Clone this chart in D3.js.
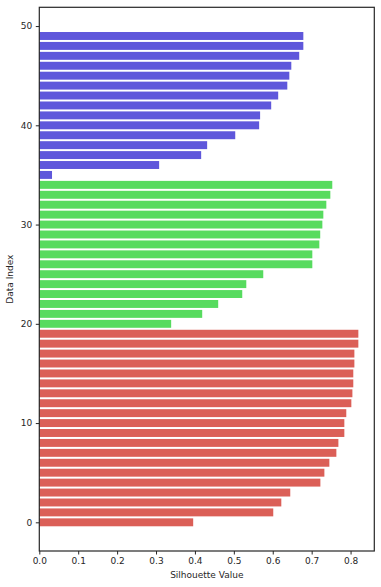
<!DOCTYPE html>
<html><head><meta charset="utf-8">
<script src="https://cdn.jsdelivr.net/npm/d3@7"></script>
<style>body{margin:0;background:#fff}svg{display:block}text{font-family:"DejaVu Sans",sans-serif;fill:#262626}</style>
</head><body>
<svg id="c" width="381" height="587"></svg>
<script>
// Silhouette values per data index (0..49)
const cluster0 = [0.3955,0.6013,0.622,0.645,0.7224,0.7327,0.7455,0.7635,0.7687,0.784,0.784,0.789,0.802,0.8047,0.807,0.807,0.8098,0.8098,0.820,0.820];
const cluster1 = [0.3389,0.4187,0.4598,0.5216,0.532,0.5756,0.7017,0.7017,0.7197,0.722,0.7275,0.730,0.7377,0.748,0.753];
const cluster2 = [0.0327,0.308,0.416,0.4314,0.5036,0.565,0.5675,0.596,0.614,0.6374,0.6426,0.6477,0.668,0.6786,0.6786];
const clusterColors = ["#db5f57","#57db5f","#5f57db"];
const xTicks = [0,0.1,0.2,0.3,0.4,0.5,0.6,0.7,0.8];
const yTicks = [0,10,20,30,40,50];

const data = [];
[cluster0,cluster1,cluster2].forEach((arr,ci)=>arr.forEach(v=>data.push({i:data.length,v,c:ci})));

const L=39.3,R=374.3,T=7.3,B=551;
const x=d3.scaleLinear().domain([0,0.861]).range([L,R]);
const y=d3.scaleLinear().domain([-2.89,51.89]).range([B,T]);
const svg=d3.select("#c");

svg.append("g").selectAll("rect").data(data).join("rect")
  .attr("x",x(0)).attr("y",d=>y(d.i+0.4)).attr("width",d=>x(d.v)-x(0))
  .attr("height",d=>y(d.i-0.4)-y(d.i+0.4)).attr("fill",d=>clusterColors[d.c]);

const xa=svg.append("g").attr("transform",`translate(0,${B})`)
  .call(d3.axisBottom(x).tickValues(xTicks).tickFormat(d3.format(".1f")).tickSize(3.5).tickPadding(3.5));
const ya=svg.append("g").attr("transform",`translate(${L},0)`)
  .call(d3.axisLeft(y).tickValues(yTicks).tickSize(3.5).tickPadding(3.5));
[xa,ya].forEach(a=>{a.select(".domain").remove();a.selectAll("line").attr("stroke","#262626").attr("stroke-width",1);a.selectAll("text").attr("font-size",9).attr("fill","#262626").attr("font-family","DejaVu Sans");});

svg.append("rect").attr("x",L).attr("y",T).attr("width",R-L).attr("height",B-T)
  .attr("fill","none").attr("stroke","#262626").attr("stroke-width",1.2);

svg.append("text").attr("x",(L+R)/2).attr("y",578).attr("text-anchor","middle").attr("font-size",9).text("Silhouette Value");
svg.append("text").attr("transform",`translate(13,${(T+B)/2}) rotate(-90)`).attr("text-anchor","middle").attr("font-size",9).text("Data Index");
</script>
</body></html>
